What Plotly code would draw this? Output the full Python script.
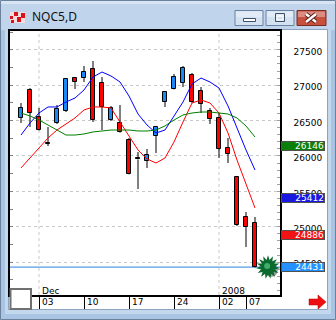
import plotly.graph_objects as go

W, H = 336, 320

# ---------------- data ----------------
dates = ["Nov 29", "Nov 30", "Dec 03", "Dec 04", "Dec 05", "Dec 06", "Dec 07",
         "Dec 10", "Dec 11", "Dec 12", "Dec 13", "Dec 14", "Dec 17", "Dec 18",
         "Dec 19", "Dec 20", "Dec 21", "Dec 24", "Dec 26", "Dec 27", "Dec 28",
         "Dec 31", "Jan 02", "Jan 03", "Jan 04", "Jan 07", "Jan 08"]
opens = [26537, 26932, 26551, 26190, 26466, 26635, 27101, 27101, 27228, 27031,
         26508, 26466, 26226, 25965, 25929, 26282, 26762, 26946, 27031, 27144,
         26918, 26635, 26537, 26113, 25703, 25139, 25054]
highs = [26748, 26960, 26678, 26409, 26720, 27101, 27115, 27271, 27341, 27115,
         26706, 26720, 26254, 26056, 26099, 26424, 26918, 27158, 27271, 27172,
         26974, 26678, 26607, 26254, 25718, 25209, 25139]
lows = [26466, 26409, 26360, 26141, 26452, 26621, 26946, 27045, 26480, 26367,
        26494, 26330, 25740, 25534, 25831, 26042, 26692, 26940, 26974, 26748,
        26607, 26452, 25972, 25901, 25012, 24715, 24425]
closes = [26678, 26607, 26367, 26176, 26664, 27087, 27045, 27186, 26508, 26692,
          26678, 26339, 25746, 25951, 26014, 26409, 26904, 27115, 27243, 26762,
          26734, 26522, 26099, 26028, 25026, 24997, 24431]
ma_blue = [26296, 26466, 26607, 26692, 26692, 26762, 26819, 26932, 27115, 27186,
           27130, 27045, 26847, 26593, 26438, 26325, 26367, 26565, 26762, 27017,
           27101, 27045, 26960, 26706, 26395, 26085, 25802]
ma_red = [25831, 25972, 26127, 26254, 26367, 26452, 26537, 26650, 26692, 26692,
          26678, 26480, 26282, 26085, 25958, 25901, 25972, 26198, 26480, 26748,
          26791, 26748, 26607, 26325, 25943, 25591, 25266]
ma_green = [26607, 26565, 26508, 26438, 26367, 26296, 26296, 26311, 26339, 26353,
            26367, 26367, 26367, 26353, 26353, 26367, 26424, 26508, 26579, 26607,
            26621, 26621, 26607, 26593, 26537, 26424, 26268]
price_ticks = [24500, 25000, 25500, 26000, 26500, 27000, 27500]
price_tick_text = ["24500", "25000", "25500", "26000", "26500", "27000", "27500"]
date_tick_idx = [2, 7, 12, 17, 22, 25]
date_tick_text = ["03", "10", "17", "24", "02", "07"]
month_idx = [2, 22]
month_text = ["Dec", "2008"]
last_value_text = ["26146", "25412", "24886", "24431"]
last_value_price = [26146, 25412, 24886, 24431]
last_value_color = ["#0a800a", "#1818e0", "#f21414", "#2590ff"]
last_price = 24431

# ---------------- helpers (pixel -> paper) ----------------
def px(x):
    return x / W


def py(y):
    return 1 - y / H


idx = list(range(len(dates)))
fig = go.Figure()

# candle bodies
for up, col in [(True, "#1a88f5"), (False, "#ff0000")]:
    xs, bases, hs = [], [], []
    for i in idx:
        if (closes[i] > opens[i]) == up:
            xs.append(i)
            bases.append(min(opens[i], closes[i]))
            hs.append(max(abs(closes[i] - opens[i]), 8))
    fig.add_trace(go.Bar(x=xs, y=hs, base=bases, width=0.55,
                         marker=dict(color=col, line=dict(color="black", width=1)),
                         showlegend=False, hoverinfo="skip"))

# wicks (outside of bodies)
wx, wy = [], []
for i in idx:
    top = max(opens[i], closes[i])
    bot = min(opens[i], closes[i])
    wx += [i, i, None, i, i, None]
    wy += [highs[i], top, None, bot, lows[i], None]
fig.add_trace(go.Scatter(x=wx, y=wy, mode="lines", line=dict(color="black", width=1),
                         showlegend=False, hoverinfo="skip"))

# moving averages
fig.add_trace(go.Scatter(x=idx, y=ma_blue, mode="lines", line=dict(color="#0000ff", width=1),
                         showlegend=False, hoverinfo="skip"))
fig.add_trace(go.Scatter(x=idx, y=ma_red, mode="lines", line=dict(color="#ff0000", width=1),
                         showlegend=False, hoverinfo="skip"))
fig.add_trace(go.Scatter(x=idx, y=ma_green, mode="lines", line=dict(color="#008000", width=1),
                         showlegend=False, hoverinfo="skip", yaxis="y2"))

# star marker at last price
star_x = len(dates) + 0.45
fig.add_trace(go.Scatter(x=[star_x + 0.35], y=[last_price - 45], mode="markers",
                         marker=dict(symbol="circle", size=13, color="rgba(40,40,40,0.45)"),
                         showlegend=False, hoverinfo="skip"))
for ang in (0, 24, 48):
    fig.add_trace(go.Scatter(x=[star_x], y=[last_price], mode="markers",
                             marker=dict(symbol="star", size=17, angle=ang, color="#0c6a30",
                                         line=dict(width=0)),
                             showlegend=False, hoverinfo="skip"))
fig.add_trace(go.Scatter(x=[star_x - 0.1], y=[last_price + 15], mode="markers",
                         marker=dict(symbol="circle", size=6, color="#3fae66"),
                         showlegend=False, hoverinfo="skip"))

FONT = "DejaVu Sans"
shapes = []
annotations = []

# window chrome
shapes.append(dict(type="rect", xref="paper", yref="paper", x0=px(0), x1=px(W), y0=py(H), y1=py(0),
                   fillcolor="#c3d7ed", line=dict(width=0), layer="below"))
shapes.append(dict(type="rect", xref="paper", yref="paper", x0=px(0), x1=px(W), y0=py(30), y1=py(0),
                   fillcolor="#c0d5ec", line=dict(width=0), layer="below"))
shapes.append(dict(type="rect", xref="paper", yref="paper", x0=px(0), x1=px(W), y0=py(4), y1=py(0),
                   fillcolor="#d6e4f3", line=dict(width=0), layer="below"))
shapes.append(dict(type="rect", xref="paper", yref="paper", x0=px(0), x1=px(5), y0=py(H), y1=py(30),
                   fillcolor="#a9c5e3", line=dict(width=0), layer="below"))
shapes.append(dict(type="rect", xref="paper", yref="paper", x0=px(331), x1=px(W), y0=py(H), y1=py(30),
                   fillcolor="#a9c5e3", line=dict(width=0), layer="below"))
shapes.append(dict(type="rect", xref="paper", yref="paper", x0=px(0), x1=px(W), y0=py(H), y1=py(314),
                   fillcolor="#a9c5e3", line=dict(width=0), layer="below"))
# client area
shapes.append(dict(type="rect", xref="paper", yref="paper", x0=px(8.5), x1=px(327.5), y0=py(309.5), y1=py(29.5),
                   fillcolor="white", line=dict(color="#8da4c0", width=1), layer="below"))
# outer border
shapes.append(dict(type="rect", xref="paper", yref="paper", x0=px(0.5), x1=px(335.5), y0=py(319.5), y1=py(0.5),
                   fillcolor="rgba(0,0,0,0)", line=dict(color="#6c819c", width=1), layer="above"))

# title icon
shapes.append(dict(type="rect", xref="paper", yref="paper", x0=px(10), x1=px(25), y0=py(23), y1=py(12),
                   fillcolor="#f2dede", line=dict(width=0), layer="above"))
for (a, b, c, d) in [(10, 13, 16, 19), (14, 18, 12, 16), (17, 21, 17, 22), (21, 25, 13, 18), (11, 14, 20, 23)]:
    shapes.append(dict(type="rect", xref="paper", yref="paper", x0=px(a), x1=px(b), y0=py(d), y1=py(c),
                       fillcolor="#d8141c", line=dict(width=0), layer="above"))
annotations.append(dict(text="NQC5,D", xref="paper", yref="paper", x=px(30), y=py(17),
                        xanchor="left", yanchor="middle", showarrow=False,
                        font=dict(family="Noto Sans", size=12, color="#111111")))

# caption buttons
for (a, b, fill, border) in [(235, 263, "#d3e1f0", "#6a83a5"), (266, 294, "#d3e1f0", "#6a83a5"),
                             (297, 326, "#c8503e", "#7a2a20")]:
    shapes.append(dict(type="rect", xref="paper", yref="paper", x0=px(a), x1=px(b), y0=py(25.5), y1=py(10.5),
                       fillcolor=fill, line=dict(color=border, width=1), layer="above"))
    shapes.append(dict(type="rect", xref="paper", yref="paper", x0=px(a + 1), x1=px(b - 1), y0=py(17), y1=py(11.5),
                       fillcolor="rgba(255,255,255,0.35)", line=dict(width=0), layer="above"))
shapes.append(dict(type="rect", xref="paper", yref="paper", x0=px(243.5), x1=px(255.5), y0=py(21.5), y1=py(18.5),
                   fillcolor="white", line=dict(color="#3d4f66", width=1), layer="above"))
shapes.append(dict(type="rect", xref="paper", yref="paper", x0=px(275.5), x1=px(284.5), y0=py(21.5), y1=py(13.5),
                   fillcolor="rgba(0,0,0,0)", line=dict(color="#3d4f66", width=1), layer="above"))
shapes.append(dict(type="rect", xref="paper", yref="paper", x0=px(277), x1=px(283), y0=py(20), y1=py(16),
                   fillcolor="rgba(0,0,0,0)", line=dict(color="white", width=1), layer="above"))
for (xa, ya, xb, yb) in [(306, 14, 316, 22), (306, 22, 316, 14)]:
    shapes.append(dict(type="line", xref="paper", yref="paper", x0=px(xa), y0=py(ya), x1=px(xb), y1=py(yb),
                       line=dict(color="#5a2018", width=4.5), layer="above"))
    shapes.append(dict(type="line", xref="paper", yref="paper", x0=px(xa), y0=py(ya), x1=px(xb), y1=py(yb),
                       line=dict(color="white", width=2.5), layer="above"))

# month-boundary vertical dotted grid
for m in month_idx:
    shapes.append(dict(type="line", xref="x", yref="paper", x0=m, x1=m, y0=py(295), y1=py(31),
                       line=dict(color="#c8c8c8", width=1, dash="dot"), layer="below"))

# last price line
shapes.append(dict(type="line", xref="paper", yref="y", x0=px(10), x1=px(280), y0=last_price, y1=last_price,
                   line=dict(color="#2a82e0", width=1), layer="below"))

# bottom-left grey box
shapes.append(dict(type="rect", xref="paper", yref="paper", x0=px(10.5), x1=px(31), y0=py(309), y1=py(289),
                   fillcolor="white", line=dict(color="#707070", width=2), layer="above"))

# red arrow (bottom right)
shapes.append(dict(type="path", xref="paper", yref="paper",
                   path=(f"M {px(309)} {py(299)} L {px(318)} {py(299)} L {px(318)} {py(295)} "
                         f"L {px(326)} {py(302)} L {px(318)} {py(309)} L {px(318)} {py(305)} "
                         f"L {px(309)} {py(305)} Z"),
                   fillcolor="#ee1010", line=dict(color="#b00000", width=0.5), layer="above"))

# date labels
for t, txt in zip(date_tick_idx, date_tick_text):
    annotations.append(dict(text=txt, xref="x", yref="paper", x=t, y=py(302), xanchor="left",
                            yanchor="middle", xshift=1, showarrow=False,
                            font=dict(family=FONT, size=9, color="black")))
for t, txt in zip(month_idx, month_text):
    annotations.append(dict(text=txt, xref="x", yref="paper", x=t, y=py(290.5), xanchor="left",
                            yanchor="middle", xshift=1, showarrow=False,
                            font=dict(family=FONT, size=9, color="black")))

# last value boxes
for txt, val, col in zip(last_value_text, last_value_price, last_value_color):
    annotations.append(dict(text=txt, xref="paper", yref="y", x=px(281), y=val, xanchor="left",
                            yanchor="middle", showarrow=False, bgcolor=col, bordercolor="#505050",
                            borderwidth=1, borderpad=0, width=42, height=8, align="right",
                            font=dict(family=FONT, size=9, color="white")))

fig.update_layout(
    width=W, height=H, margin=dict(l=0, r=0, t=0, b=0),
    paper_bgcolor="#c3d7ed", plot_bgcolor="white",
    bargap=0, showlegend=False,
    xaxis=dict(range=[-1.222, 28.778], domain=[px(10), px(280)], showgrid=False, zeroline=False,
               showline=True, linecolor="black", linewidth=1.5, mirror=True,
               tickmode="array", tickvals=date_tick_idx, ticks="outside", ticklen=12,
               tickcolor="black", tickwidth=1, showticklabels=False, fixedrange=True),
    yaxis=dict(range=[24037, 27765], domain=[py(295), py(31)], side="right",
               tickmode="array", tickvals=price_ticks, ticktext=price_tick_text,
               ticks="outside", ticklen=10, ticklabelshift=2,
               tickcolor="rgba(0,0,0,0)", showgrid=True, gridcolor="#c8c8c8", griddash="dot",
               gridwidth=1, zeroline=False, showline=True, linecolor="black", linewidth=1.5,
               mirror=True, tickfont=dict(family=FONT, size=9, color="black"),
               minor=dict(ticks="inside", ticklen=3, dtick=100, tickcolor="#a0a0a0", showgrid=False)),
    yaxis2=dict(overlaying="y", matches="y", side="left", showticklabels=False, showgrid=False,
                zeroline=False, showline=False, ticks="inside", ticklen=3, dtick=250, tick0=0,
                tickcolor="#808080"),
    shapes=shapes, annotations=annotations,
)

fig.write_html("out.html")
